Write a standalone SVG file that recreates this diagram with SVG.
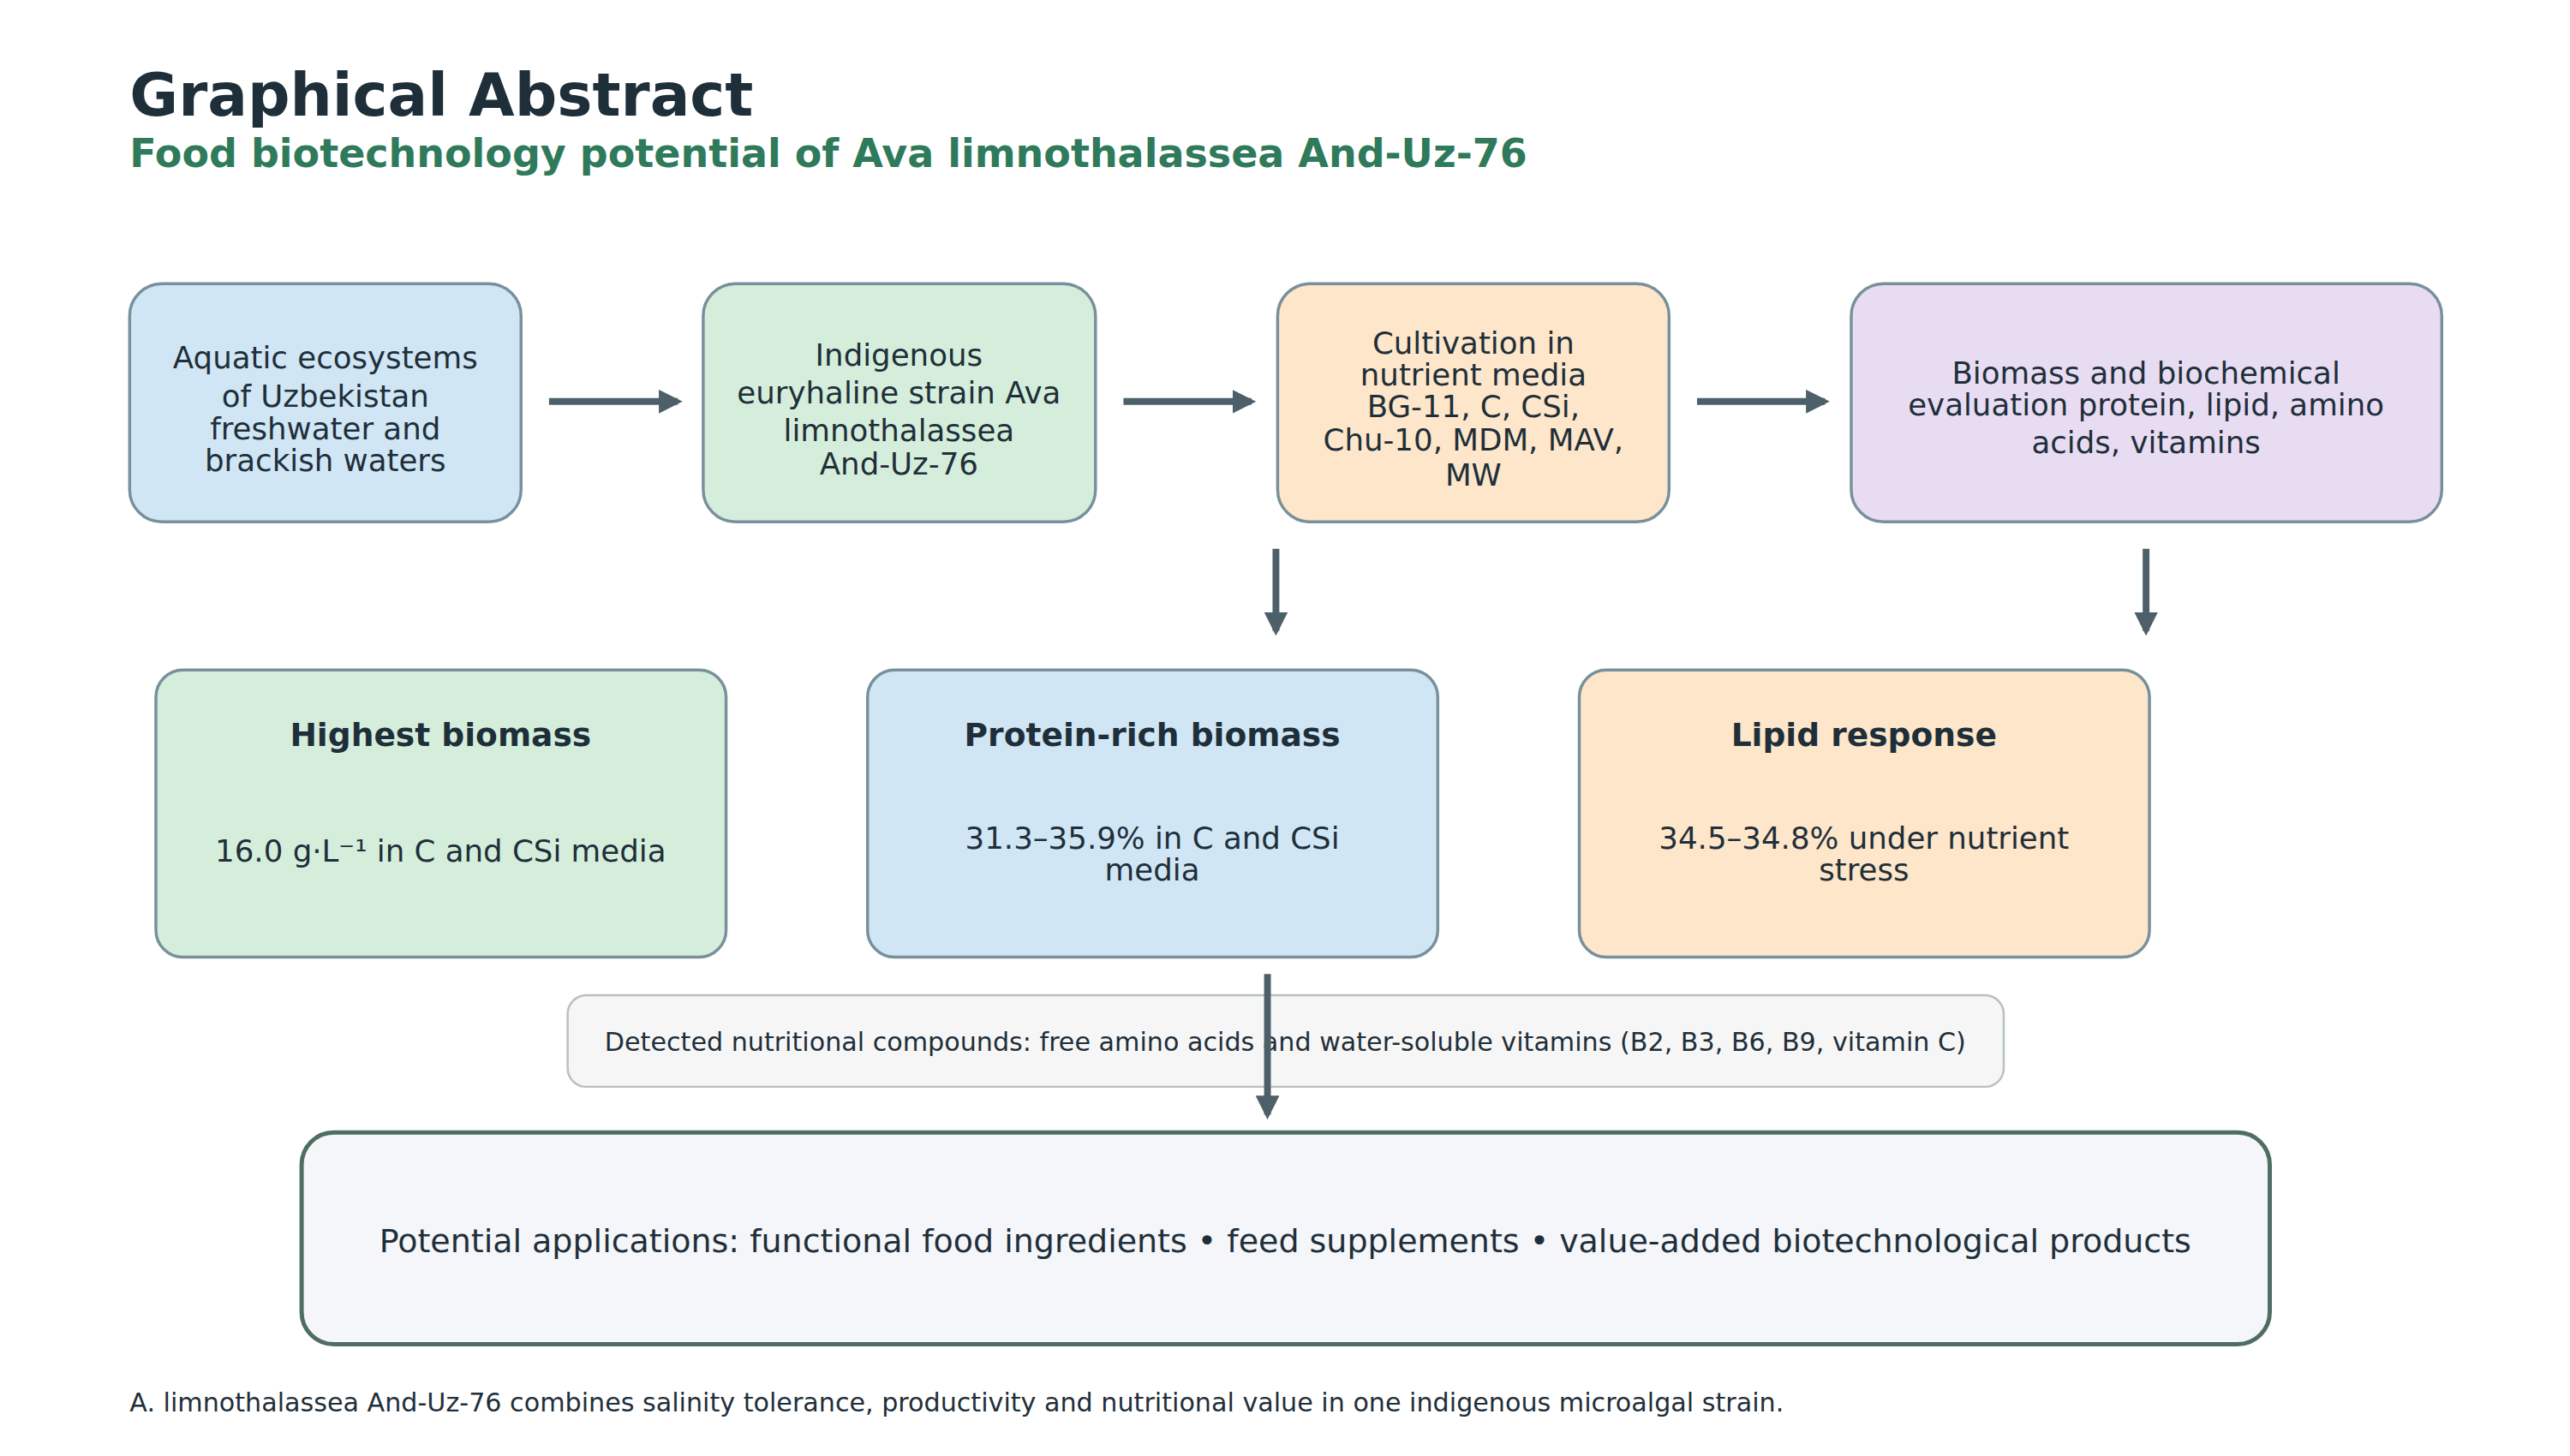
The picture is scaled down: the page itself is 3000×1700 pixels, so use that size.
<svg xmlns="http://www.w3.org/2000/svg" width="3000" height="1700" viewBox="0 0 3000 1700">
<style>
text{font-family:"DejaVu Sans","Liberation Sans",sans-serif;fill:#1f2f3a}
.box{stroke:#78909c;stroke-width:3.5}
.t{font-size:36px;text-anchor:middle}
.b{font-size:38px;font-weight:bold;text-anchor:middle}
.c{stroke:#4d5f69;stroke-width:8;fill:none;marker-end:url(#ah)}
</style>
<defs><marker id="ah" viewBox="0 0 10 10" refX="8" refY="5" markerWidth="3.5" markerHeight="3.5" orient="auto"><path d="M0,0L10,5L0,10z" fill="#4d5f69"/></marker></defs>
<rect width="3000" height="1700" fill="#fff"/>
<g transform="scale(0.989)">
<text x="153" y="136" font-size="70" font-weight="bold" fill="#22323d">Graphical Abstract</text>
<text x="153" y="197" font-size="46.5" font-weight="bold" style="fill:#2e7a5a">Food biotechnology potential of Ava limnothalassea And-Uz-76</text>
<g id="n1"><rect class="box" x="153" y="335" width="462" height="281" rx="38" fill="#d0e6f5"/><text class="t"><tspan x="384" y="435">Aquatic ecosystems</tspan><tspan x="384" y="480">of Uzbekistan</tspan><tspan x="384" y="519">freshwater and</tspan><tspan x="384" y="556">brackish waters</tspan></text></g>
<g id="n2"><rect class="box" x="830" y="335" width="463" height="281" rx="38" fill="#d5eedb"/><text class="t"><tspan x="1061" y="432">Indigenous</tspan><tspan x="1061" y="476">euryhaline strain Ava</tspan><tspan x="1061" y="521">limnothalassea</tspan><tspan x="1061" y="560">And-Uz-76</tspan></text></g>
<g id="n3"><rect class="box" x="1508" y="335" width="462" height="281" rx="38" fill="#fde6c9"/><text class="t"><tspan x="1739" y="418">Cultivation in</tspan><tspan x="1739" y="455">nutrient media</tspan><tspan x="1739" y="492">BG-11, C, CSi,</tspan><tspan x="1739" y="532">Chu-10, MDM, MAV,</tspan><tspan x="1739" y="573">MW</tspan></text></g>
<g id="n4"><rect class="box" x="2185" y="335" width="697" height="281" rx="38" fill="#e8dcf2"/><text class="t"><tspan x="2533" y="453">Biomass and biochemical</tspan><tspan x="2533" y="490">evaluation protein, lipid, amino</tspan><tspan x="2533" y="535">acids, vitamins</tspan></text></g>
<g id="n5"><rect class="box" x="184" y="791" width="673" height="339" rx="32" fill="#d5eedb"/><text class="b" x="520" y="881">Highest biomass</text><text class="t" x="520" y="1017">16.0 g·L⁻¹ in C and CSi media</text></g>
<g id="n6"><rect class="box" x="1024" y="791" width="673" height="339" rx="32" fill="#d0e6f5"/><text class="b" x="1360" y="881">Protein-rich biomass</text><text class="t"><tspan x="1360" y="1002">31.3–35.9% in C and CSi</tspan><tspan x="1360" y="1039">media</tspan></text></g>
<g id="n7"><rect class="box" x="1864" y="791" width="673" height="339" rx="32" fill="#fde6c9"/><text class="b" x="2200" y="881">Lipid response</text><text class="t"><tspan x="2200" y="1002">34.5–34.8% under nutrient</tspan><tspan x="2200" y="1039">stress</tspan></text></g>
<g id="n8"><rect x="670" y="1175" width="1695" height="108" rx="22" fill="#f6f6f6" stroke="#b8bfc4" stroke-width="2.5"/><text x="1517" y="1241" font-size="30.5" text-anchor="middle">Detected nutritional compounds: free amino acids and water-soluble vitamins (B2, B3, B6, B9, vitamin C)</text></g>
<g id="n9"><rect x="356" y="1337" width="2323" height="250" rx="38" fill="#f4f6f9" stroke="#4e6e62" stroke-width="5"/><text x="1517" y="1478" font-size="38.4" text-anchor="middle">Potential applications: functional food ingredients • feed supplements • value-added biotechnological products</text></g>
<g id="connectors">
<path class="c" d="M648 474H800"/><path class="c" d="M1326 474H1477"/><path class="c" d="M2003 474H2154"/>
<path class="c" d="M1506 648V745"/><path class="c" d="M2533 648V745"/>
<path class="c" d="M1496 1150V1316"/>
</g>
<text x="153" y="1666" font-size="30.5" fill="#444">A. limnothalassea And-Uz-76 combines salinity tolerance, productivity and nutritional value in one indigenous microalgal strain.</text>
</g>
</svg>
